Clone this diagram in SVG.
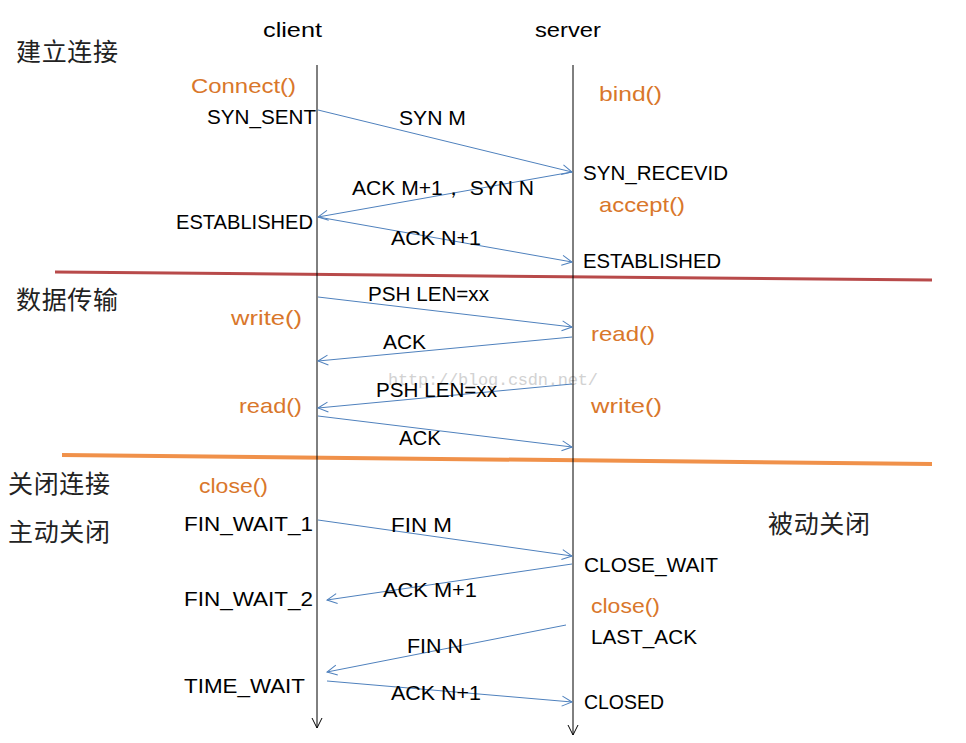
<svg xmlns="http://www.w3.org/2000/svg" width="966" height="743" viewBox="0 0 966 743">
<style>
text{font-family:"Liberation Sans",Arial,sans-serif;font-size:21px;fill:#000}
.o{fill:#d9772b}
.cn{font-family:"Noto Sans CJK SC","Noto Sans",sans-serif;font-size:25px;fill:#222}
.wm{font-family:"Liberation Mono",monospace;font-size:17px;fill:#d2d2d2}
.msg{stroke:#4f81bd;stroke-width:1;fill:none;marker-end:url(#ba)}
.life{stroke:#000;stroke-width:1;fill:none;marker-end:url(#ka)}
</style>
<defs>
<marker id="ba" markerUnits="userSpaceOnUse" markerWidth="14" markerHeight="14" refX="11" refY="6" orient="auto"><path d="M1,1 L11,6 L1,11" fill="none" stroke="#4f81bd" stroke-width="1"/></marker>
<marker id="ka" markerUnits="userSpaceOnUse" markerWidth="14" markerHeight="14" refX="11" refY="6" orient="auto"><path d="M1,1 L11,6 L1,11" fill="none" stroke="#000" stroke-width="1"/></marker>
</defs>
<rect width="966" height="743" fill="#fff"/>
<g id="watermark"><text class="wm" x="388" y="385" textLength="210">http://blog.csdn.net/</text></g>
<g id="separators">
<line x1="55" y1="272" x2="932" y2="280" stroke="#b84a4a" stroke-width="3"/>
<line x1="62" y1="455" x2="932" y2="464" stroke="#f0914a" stroke-width="4"/>
</g>
<g id="connectors">
<line class="life" x1="317" y1="65" x2="317" y2="728"/>
<line class="life" x1="573" y1="65" x2="573" y2="735"/>
<line class="msg" x1="318" y1="110" x2="572" y2="172"/>
<line class="msg" x1="572" y1="172" x2="318" y2="217"/>
<line class="msg" x1="318" y1="217" x2="572" y2="262"/>
<line class="msg" x1="318" y1="297" x2="572" y2="327"/>
<line class="msg" x1="572" y1="337" x2="318" y2="361"/>
<line class="msg" x1="572" y1="384" x2="318" y2="408"/>
<line class="msg" x1="318" y1="416" x2="572" y2="447"/>
<line class="msg" x1="318" y1="520" x2="572" y2="556"/>
<line class="msg" x1="572" y1="564" x2="327" y2="600"/>
<line class="msg" x1="566" y1="625" x2="327" y2="672"/>
<line class="msg" x1="327" y1="681" x2="572" y2="702"/>
</g>
<g id="headers">
<text x="263" y="37" textLength="59" lengthAdjust="spacingAndGlyphs">client</text>
<text x="535" y="37" textLength="66" lengthAdjust="spacingAndGlyphs">server</text>
</g>
<g id="phase-connect">
<text class="cn" x="16" y="61" textLength="102">建立连接</text>
<text class="o" x="191" y="93" textLength="105" lengthAdjust="spacingAndGlyphs">Connect()</text>
<text x="207" y="124" textLength="109" lengthAdjust="spacingAndGlyphs">SYN_SENT</text>
<text x="399" y="125" textLength="67" lengthAdjust="spacingAndGlyphs">SYN M</text>
<text class="o" x="599" y="101" textLength="63" lengthAdjust="spacingAndGlyphs">bind()</text>
<text x="583" y="180" textLength="145" lengthAdjust="spacingAndGlyphs">SYN_RECEVID</text>
<text x="352" y="195" textLength="182" lengthAdjust="spacingAndGlyphs">ACK M+1，  SYN N</text>
<text class="o" x="599" y="212" textLength="86" lengthAdjust="spacingAndGlyphs">accept()</text>
<text x="176" y="229" textLength="137" lengthAdjust="spacingAndGlyphs">ESTABLISHED</text>
<text x="391" y="245" textLength="90" lengthAdjust="spacingAndGlyphs">ACK N+1</text>
<text x="583" y="268" textLength="138" lengthAdjust="spacingAndGlyphs">ESTABLISHED</text>
</g>
<g id="phase-data">
<text class="cn" x="16" y="309" textLength="102">数据传输</text>
<text x="368" y="301" textLength="121" lengthAdjust="spacingAndGlyphs">PSH LEN=xx</text>
<text class="o" x="231" y="325" textLength="71" lengthAdjust="spacingAndGlyphs">write()</text>
<text class="o" x="591" y="341" textLength="64" lengthAdjust="spacingAndGlyphs">read()</text>
<text x="383" y="349" textLength="43" lengthAdjust="spacingAndGlyphs">ACK</text>
<text x="376" y="397" textLength="121" lengthAdjust="spacingAndGlyphs">PSH LEN=xx</text>
<text class="o" x="239" y="413" textLength="63" lengthAdjust="spacingAndGlyphs">read()</text>
<text class="o" x="591" y="413" textLength="71" lengthAdjust="spacingAndGlyphs">write()</text>
<text x="399" y="445" textLength="42" lengthAdjust="spacingAndGlyphs">ACK</text>
</g>
<g id="phase-close">
<text class="cn" x="8" y="493" textLength="102">关闭连接</text>
<text class="o" x="199" y="493" textLength="69" lengthAdjust="spacingAndGlyphs">close()</text>
<text class="cn" x="8" y="541" textLength="102">主动关闭</text>
<text x="184" y="531" textLength="129" lengthAdjust="spacingAndGlyphs">FIN_WAIT_1</text>
<text x="391" y="532" textLength="61" lengthAdjust="spacingAndGlyphs">FIN M</text>
<text class="cn" x="768" y="533" textLength="102">被动关闭</text>
<text x="584" y="572" textLength="134" lengthAdjust="spacingAndGlyphs">CLOSE_WAIT</text>
<text x="184" y="606" textLength="129" lengthAdjust="spacingAndGlyphs">FIN_WAIT_2</text>
<text x="383" y="597" textLength="94" lengthAdjust="spacingAndGlyphs">ACK M+1</text>
<text class="o" x="591" y="613" textLength="69" lengthAdjust="spacingAndGlyphs">close()</text>
<text x="591" y="644" textLength="106" lengthAdjust="spacingAndGlyphs">LAST_ACK</text>
<text x="407" y="653" textLength="56" lengthAdjust="spacingAndGlyphs">FIN N</text>
<text x="184" y="693" textLength="121" lengthAdjust="spacingAndGlyphs">TIME_WAIT</text>
<text x="391" y="700" textLength="90" lengthAdjust="spacingAndGlyphs">ACK N+1</text>
<text x="584" y="709" textLength="80" lengthAdjust="spacingAndGlyphs">CLOSED</text>
</g>
</svg>
